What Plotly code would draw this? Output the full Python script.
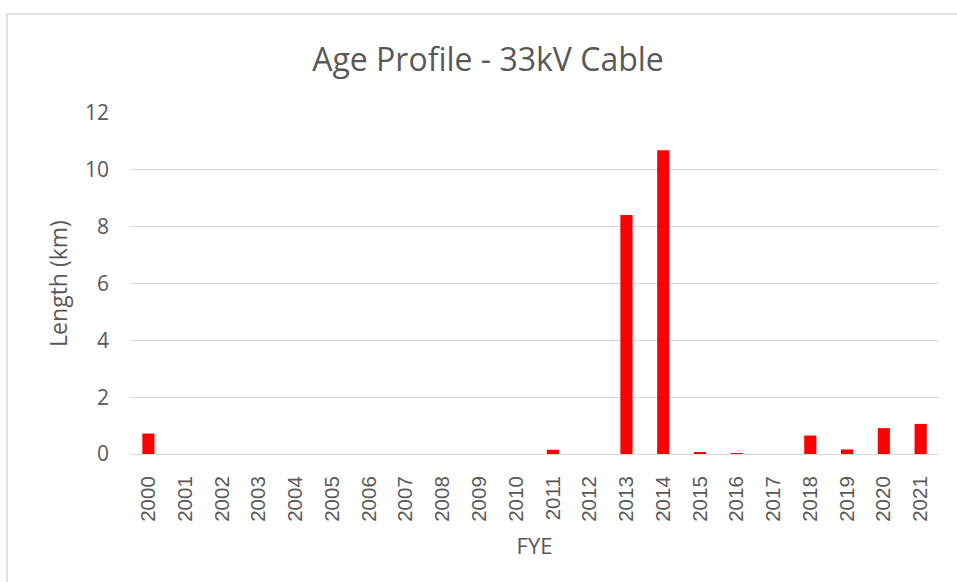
import plotly.graph_objects as go

# Cable length installed per financial year end
years = [str(y) for y in range(2000, 2022)]
lengths_km = [0.72, 0, 0, 0, 0, 0, 0, 0, 0, 0, 0, 0.15, 0, 8.41, 10.69,
              0.05, 0.02, 0, 0.65, 0.16, 0.91, 1.06]
y_ticks = [0, 2, 4, 6, 8, 10, 12]

W, H = 957, 582
ML, MR, MT, MB = 130, 18, 113, 128
pw, ph = W - ML - MR, H - MT - MB

fig = go.Figure(go.Bar(
    x=years, y=lengths_km,
    marker=dict(color="#ff0000", line=dict(width=0)),
    width=0.33,
))

font = "'Open Sans', sans-serif"
grey = "#595959"
fig.update_layout(
    width=W, height=H,
    margin=dict(l=ML, r=MR, t=MT, b=MB),
    paper_bgcolor="white", plot_bgcolor="white",
    showlegend=False,
    font=dict(family=font, color=grey, size=21),
    title=dict(text="Age Profile - 33kV Cable", x=488 / W, xanchor="center",
               y=1 - 60 / H, yanchor="middle",
               font=dict(size=32, color=grey, family=font)),
    xaxis=dict(type="category", tickangle=-90, showgrid=False,
               showline=True, linecolor="#d9d9d9", linewidth=1,
               ticks="", ticklabelstandoff=13,
               tickfont=dict(size=20.5, family="'Liberation Sans', Arial, sans-serif"),
               title=dict(text="FYE", standoff=17, font=dict(size=22))),
    yaxis=dict(range=[0, 12], tickvals=y_ticks, showgrid=True,
               gridcolor="#d9d9d9", gridwidth=1, zeroline=False,
               showline=False, ticks="", ticklabelstandoff=20,
               tickfont=dict(size=21),
               title=dict(text="Length (km)", standoff=10, font=dict(size=23))),
)

# Light frame around the chart area
fig.add_shape(type="rect", xref="paper", yref="paper",
              x0=(7 - ML) / pw, x1=(W + 5 - ML) / pw,
              y0=-(5 + MB) / ph, y1=(H - 14 - MB) / ph,
              line=dict(color="#d9d9d9", width=1.5), fillcolor="rgba(0,0,0,0)",
              layer="below")

fig.write_html("out.html")
